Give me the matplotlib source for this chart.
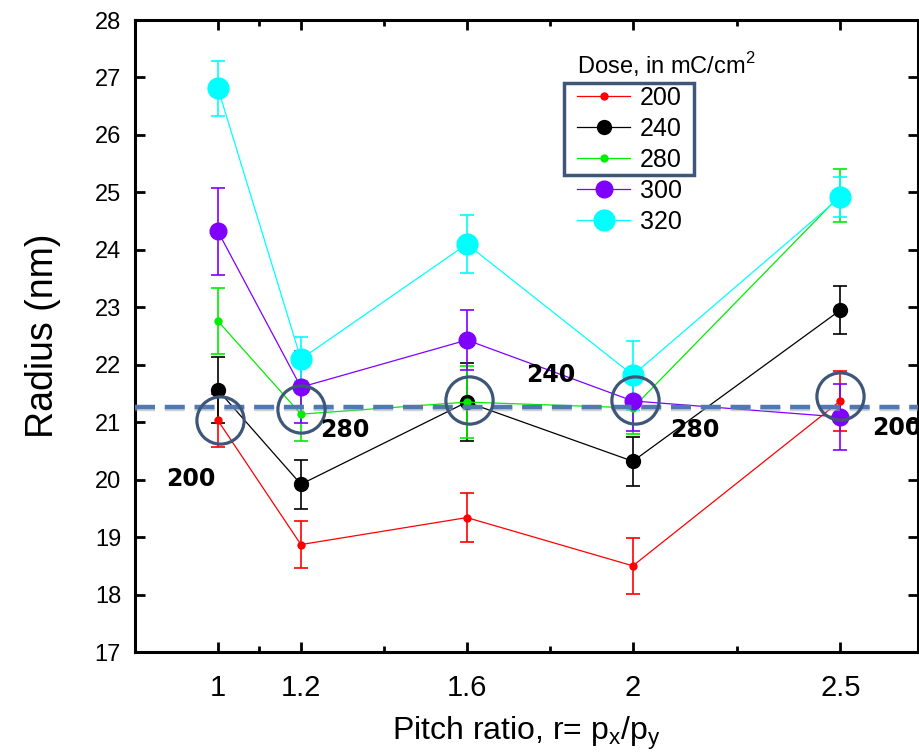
import matplotlib
matplotlib.use("Agg")
import matplotlib.pyplot as plt
import matplotlib.patheffects as pe
from matplotlib.patches import Rectangle
from matplotlib.lines import Line2D
from matplotlib.ticker import FixedLocator

plt.rcParams['font.family'] = ['Liberation Sans', 'DejaVu Sans']

# ---- data ----
pitch = [1.0, 1.2, 1.6, 2.0, 2.5]
doses = ["200", "240", "280", "300", "320"]
r200 = [21.03, 18.87, 19.34, 18.50, 21.37]
e200 = [0.46, 0.41, 0.42, 0.49, 0.52]
r240 = [21.56, 19.92, 21.35, 20.32, 22.95]
e240 = [0.57, 0.43, 0.68, 0.43, 0.42]
r280 = [22.76, 21.14, 21.35, 21.25, 24.95]
e280 = [0.58, 0.46, 0.62, 0.45, 0.46]
r300 = [24.32, 21.61, 22.43, 21.37, 21.09]
e300 = [0.76, 0.63, 0.53, 0.52, 0.57]
r320 = [26.81, 22.10, 24.10, 21.82, 24.92]
e320 = [0.48, 0.39, 0.51, 0.60, 0.34]

ref_level = 21.27
circle_x = [1.005, 1.2, 1.605, 2.005, 2.5]
circle_y = [21.03, 21.23, 21.39, 21.39, 21.45]
note_text = ["200", "280", "240", "280", "200"]
note_x = [0.935, 1.247, 1.742, 2.09, 2.576]
note_y = [20.01, 20.86, 21.82, 20.86, 20.90]

xticks = [1, 1.2, 1.6, 2, 2.5]
xtick_labels = ["1", "1.2", "1.6", "2", "2.5"]
xminor = [1.1, 1.4, 1.8, 2.25]
yticks = list(range(17, 29))

series = [
    (r200, e200, "#ff0000", 5),
    (r240, e240, "#000000", 10),
    (r280, e280, "#00ee00", 5),
    (r300, e300, "#8000ff", 12),
    (r320, e320, "#00ffff", 15),
]

fig = plt.figure(figsize=(9.2, 7.53), dpi=100)
ax = fig.add_axes([0.1467, 0.1341, 0.851, 0.8393])

handles = []
for (vals, errs, col, ms), lab in zip(series, doses):
    ax.errorbar(pitch, vals, yerr=errs, color=col, marker='o', ms=ms,
                lw=0.9, elinewidth=1.2, capsize=4.7, capthick=1.2, zorder=3)
    handles.append(Line2D([], [], color=col, marker='o', ms=ms, lw=0.9))

# dashed reference line with soft shadow
ax.axhline(ref_level, color="#4f79b0", lw=3.2, dashes=(4.5, 2.2), zorder=5,
           path_effects=[pe.SimpleLineShadow(offset=(0, -1.5), shadow_color="#9aa5b5", alpha=0.5),
                         pe.Normal()])

# highlight circles
ax.plot(circle_x, circle_y, ls='none', marker='o', ms=34, mfc='none',
        mec="#3e5779", mew=2.3, zorder=6)
for t, x, y in zip(note_text, note_x, note_y):
    ax.text(x, y, t, fontsize=17, fontweight='bold', family=['DejaVu Sans'],
            ha='left' if x > 1 else 'center', va='center', zorder=7, clip_on=False)

ax.set_xlim(0.80, 2.687)
ax.set_ylim(17, 28)
ax.xaxis.set_major_locator(FixedLocator(xticks))
ax.set_xticklabels(xtick_labels)
ax.xaxis.set_minor_locator(FixedLocator(xminor))
ax.set_yticks(yticks)

for s in ax.spines.values():
    s.set_linewidth(2.2)
ax.tick_params(which='major', direction='in', length=7, width=2, top=True, right=True,
               labelsize=17, pad=10)
ax.tick_params(axis='x', which='major', labelsize=21, pad=16)
ax.tick_params(which='minor', direction='in', length=4, width=2, top=True, right=True)

ax.set_xlabel(r"Pitch ratio, r= p$_\mathregular{x}$/p$_\mathregular{y}$", fontsize=23, labelpad=9)
ax.set_ylabel("Radius (nm)", fontsize=27, labelpad=24)

leg = ax.legend(handles=handles, labels=doses, loc='upper left',
                bbox_to_anchor=(0.565, 0.953), frameon=False, fontsize=18,
                title=r"Dose, in mC/cm$^\mathregular{2}$", title_fontsize=17,
                handlelength=2.1, handletextpad=0.4, labelspacing=0.28,
                borderaxespad=0, borderpad=0)
leg._legend_box.align = "left"

# box around the first three legend entries
ax.add_patch(Rectangle((564, 753 - 175), 130, 92, transform=None, fill=False,
                       ec="#3e5779", lw=2.5, zorder=8))

fig.savefig("out.png", dpi=100)
